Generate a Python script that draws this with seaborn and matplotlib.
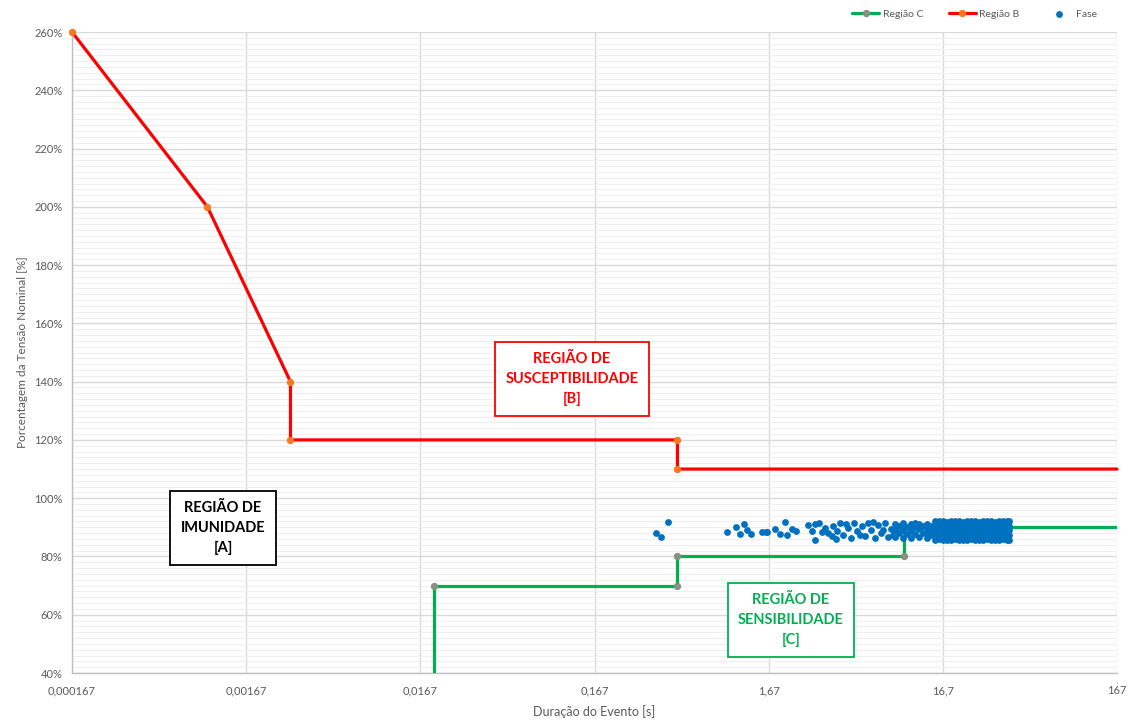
import matplotlib
matplotlib.use("Agg")
import matplotlib.pyplot as plt
import seaborn as sns
from matplotlib.ticker import FixedLocator, MultipleLocator

# curve limits (duration in s, voltage in % of nominal)
regiao_b_t = [0.000167, 0.001, 0.003, 0.003, 0.5, 0.5, 167]
regiao_b_v = [260, 200, 140, 120, 120, 110, 110]
regiao_c_t = [0.02, 0.02, 0.5, 0.5, 10, 10, 167]
regiao_c_v = [0, 70, 70, 80, 80, 90, 90]

# measured events (Fase)
fase_t = [0.375, 0.40, 0.44, 0.96, 1.09, 1.15, 1.20, 1.25, 1.33, 1.52, 1.61,
          1.64, 1.81, 1.93, 2.07, 2.12, 2.27, 2.41, 2.80, 2.96, 3.08, 3.27,
          3.36, 3.50, 3.84, 3.89, 4.10, 4.27, 4.44, 4.75, 4.94, 5.15, 5.36,
          5.71, 5.95, 6.19, 6.44, 6.78, 7.06, 7.35, 7.73, 8.05, 8.38,
          3.08, 3.66, 4.05, 4.63, 5.56, 6.61, 7.54, 8.61, 9.07,
          8.83, 8.83, 8.83, 9.31, 9.31, 9.81, 9.81, 9.81, 10.35, 10.35,
          10.91, 10.91, 10.91, 11.50, 11.50, 11.50, 12.13, 12.13, 12.13,
          12.79, 12.79, 13.48, 13.48, 13.48, 13.48, 14.21, 14.21, 14.21,
          14.99, 14.99, 14.99, 14.99, 14.99,
          15.80, 15.80, 15.80, 15.80, 15.80,
          16.66, 16.66, 16.66, 16.66, 16.66,
          17.56, 17.56, 17.56, 17.56, 17.56,
          18.51, 18.51, 18.51, 18.51, 18.51,
          19.52, 19.52, 19.52, 19.52, 19.52,
          20.58, 20.58, 20.58, 20.58, 20.58,
          21.70, 21.70, 21.70, 21.70, 21.70,
          22.88, 22.88, 22.88, 22.88, 22.88,
          24.12, 24.12, 24.12, 24.12, 24.12,
          25.43, 25.43, 25.43, 25.43, 25.43,
          26.81, 26.81, 26.81, 26.81, 26.81,
          28.27, 28.27, 28.27, 28.27, 28.27,
          29.80, 29.80, 29.80, 29.80, 29.80,
          31.42, 31.42, 31.42, 31.42, 31.42,
          33.13, 33.13, 33.13, 33.13, 33.13,
          34.92, 34.92, 34.92, 34.92, 34.92,
          36.81, 36.81, 36.81, 36.81, 36.81,
          38.81, 38.81, 38.81, 38.81, 38.81,
          39.90, 39.90, 39.90, 39.90, 39.90]
fase_v = [88.1, 86.7, 91.8, 88.4, 90.1, 87.7, 91.2, 89.1, 87.7, 88.4, 88.4,
          88.4, 89.4, 87.7, 91.8, 87.4, 89.4, 88.8, 90.8, 88.8, 85.7, 91.5,
          88.4, 89.8, 87.0, 90.5, 88.8, 91.5, 87.4, 89.8, 86.4, 91.5, 88.8,
          90.5, 87.0, 91.5, 89.1, 86.4, 90.8, 88.1, 91.5, 86.7, 89.4,
          91.0, 88.0, 86.0, 91.0, 87.5, 91.8, 89.0, 87.5, 90.5,
          86.8, 89.2, 91.3, 88.0, 90.4, 86.5, 89.0, 91.5, 87.6, 90.2,
          86.4, 88.8, 91.0, 87.8, 90.0, 91.6, 86.6, 89.3, 91.2,
          88.1, 90.6, 86.5, 87.9, 89.6, 91.3, 87.2, 88.9, 90.5,
          85.8, 87.4, 89.0, 90.6, 92.0,
          85.9, 87.3, 88.9, 90.5, 92.1,
          85.8, 87.4, 89.0, 90.6, 92.0,
          85.7, 87.5, 89.1, 90.7, 91.9,
          85.8, 87.4, 89.0, 90.6, 92.0,
          85.9, 87.3, 88.9, 90.5, 92.1,
          85.8, 87.4, 89.0, 90.6, 92.0,
          85.7, 87.5, 89.1, 90.7, 91.9,
          85.8, 87.4, 89.0, 90.6, 92.0,
          85.9, 87.3, 88.9, 90.5, 92.1,
          85.8, 87.4, 89.0, 90.6, 92.0,
          85.7, 87.5, 89.1, 90.7, 91.9,
          85.8, 87.4, 89.0, 90.6, 92.0,
          85.9, 87.3, 88.9, 90.5, 92.1,
          85.8, 87.4, 89.0, 90.6, 92.0,
          85.7, 87.5, 89.1, 90.7, 91.9,
          85.8, 87.4, 89.0, 90.6, 92.0,
          85.9, 87.3, 88.9, 90.5, 92.1,
          85.8, 87.4, 89.0, 90.6, 92.0,
          85.8, 87.4, 89.0, 90.6, 92.0]

x_ticks = [0.000167, 0.00167, 0.0167, 0.167, 1.67, 16.7, 167]
x_labels = ["0,000167", "0,00167", "0,0167", "0,167", "1,67", "16,7", "167"]

sns.set_style("white")
plt.rcParams["font.family"] = ["Lato", "DejaVu Sans"]
grey = "#595959"

fig = plt.figure(figsize=(11.34, 7.24), dpi=100)
ax = fig.add_axes([72/1134, 1-673/724, 1045/1134, 641/724])

sns.lineplot(x=regiao_c_t, y=regiao_c_v, sort=False, estimator=None, ax=ax,
             color="#00b050", linewidth=2.3, marker="o", markersize=4.5,
             markerfacecolor="#84927f", markeredgecolor="#84927f",
             markevery=[1, 2, 3, 4, 5], label="Região C", zorder=3)
sns.lineplot(x=regiao_b_t, y=regiao_b_v, sort=False, estimator=None, ax=ax,
             color="#ff0000", linewidth=2.3, marker="o", markersize=4.5,
             markerfacecolor="#f7781e", markeredgecolor="#f7781e",
             markevery=[0, 1, 2, 3, 4, 5], label="Região B", zorder=3,
             clip_on=False)
sns.scatterplot(x=fase_t, y=fase_v, ax=ax, color="#0070c0", s=24,
                linewidth=0, label="Fase", zorder=4)

ax.set_xscale("log")
ax.set_xlim(0.000167, 167)
ax.set_ylim(40, 260)
ax.xaxis.set_major_locator(FixedLocator(x_ticks))
ax.xaxis.set_minor_locator(FixedLocator([]))
ax.set_xticks(x_ticks)
ax.set_xticklabels(x_labels)
ax.yaxis.set_major_locator(MultipleLocator(20))
ax.yaxis.set_minor_locator(MultipleLocator(2))
ax.set_yticklabels([f"{v:.0f}%" for v in ax.get_yticks()])

ax.grid(which="major", color="#d9d9d9", linewidth=1.0)
ax.grid(which="minor", axis="y", color="#efefef", linewidth=0.8)
ax.set_axisbelow(True)
for s in ["top", "right"]:
    ax.spines[s].set_visible(False)
for s in ["left", "bottom"]:
    ax.spines[s].set_color("#bfbfbf")
    ax.spines[s].set_linewidth(1.0)
ax.tick_params(axis="y", which="major", length=4, color="#bfbfbf",
               labelsize=8, labelcolor=grey, pad=3)
ax.tick_params(axis="y", which="minor", length=0)
ax.tick_params(axis="x", length=0, labelsize=8, labelcolor=grey, pad=9)

ax.set_xlabel("Duração do Evento [s]", fontsize=9, color=grey, labelpad=6)
ax.set_ylabel("Porcentagem da Tensão Nominal [%]", fontsize=8.5, color=grey,
              labelpad=4)

# region labels
boxes = [
    (0.1445, 0.2262, "REGIÃO DE\nIMUNIDADE\n[A]", "black"),
    (0.4785, 0.4587, "REGIÃO DE\nSUSCEPTIBILIDADE\n[B]", "#ff0000"),
    (0.688, 0.0827, "REGIÃO DE\nSENSIBILIDADE\n[C]", "#00b050"),
]
for bx, by, txt, col in boxes:
    ax.text(bx, by, txt, transform=ax.transAxes, ha="center", va="center",
            fontsize=10.5, fontweight="bold", color=col, linespacing=1.5,
            zorder=6,
            bbox=dict(boxstyle="square,pad=0.7", facecolor="white",
                      edgecolor=col, linewidth=1.3))

ax.get_legend().remove()
handles, labels = ax.get_legend_handles_labels()
leg = fig.legend(handles, labels, loc="upper right", ncol=3, frameon=False,
                 bbox_to_anchor=(1106/1134, 1.0), fontsize=7.5,
                 handlelength=2.6, columnspacing=2.5, handletextpad=0.3)
for t in leg.get_texts():
    t.set_color(grey)

fig.savefig("out.png", dpi=100)
